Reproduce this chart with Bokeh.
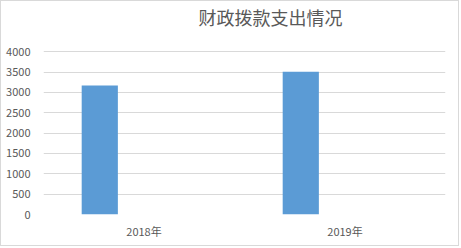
from bokeh.plotting import figure
from bokeh.models import Range1d, FactorRange, ColumnDataSource, FixedTicker, Title
from bokeh.transform import dodge
from bokeh.embed import file_html
from bokeh.resources import INLINE

categories = ["2018年", "2019年"]
values = [3170, 3510]
y_ticks = [0, 500, 1000, 1500, 2000, 2500, 3000, 3500, 4000]
title_text = "财政拨款支出情况"

FONT = "Noto Sans CJK SC"
GREY = "#595959"

src = ColumnDataSource(dict(cat=categories, val=values))

p = figure(width=459, height=246, x_range=FactorRange(*categories), y_range=Range1d(0, 4030),
           output_backend="svg", toolbar_location=None, title=title_text,
           min_border_left=42, min_border_right=15, min_border_top=0, min_border_bottom=33,
           styles={"border": "1px solid #d9d9d9"})
p.outline_line_color = None
p.background_fill_color = "white"
p.border_fill_color = "white"

p.title.text_font = FONT
p.title.text_font_size = "18px"
p.title.text_font_style = "normal"
p.title.text_color = GREY
p.title.align = "left"
p.title.offset = 155
p.title.standoff = 0

# empty spacer between title and plot area
p.add_layout(Title(text=" ", text_font=FONT, text_font_size="13px", standoff=0), "above")

p.vbar(x=dodge("cat", -0.22, range=p.x_range), top="val", width=0.18, source=src,
       fill_color="#5b9bd5", line_color=None)

p.yaxis.ticker = FixedTicker(ticks=y_ticks)
p.yaxis.axis_line_color = None
p.yaxis.major_tick_line_color = None
p.yaxis.minor_tick_line_color = None
p.yaxis.major_label_text_font = FONT
p.yaxis.major_label_text_font_size = "11px"
p.yaxis.major_label_text_color = GREY
p.yaxis.major_label_standoff = 7

p.xaxis.axis_line_color = None
p.xaxis.major_tick_line_color = None
p.xaxis.major_label_text_font = FONT
p.xaxis.major_label_text_font_size = "11px"
p.xaxis.major_label_text_color = GREY
p.xaxis.major_label_standoff = 2

p.xgrid.grid_line_color = None
p.ygrid.grid_line_color = "#d9d9d9"
p.ygrid.ticker = FixedTicker(ticks=y_ticks)

open("out.html", "w").write(file_html(p, INLINE))
